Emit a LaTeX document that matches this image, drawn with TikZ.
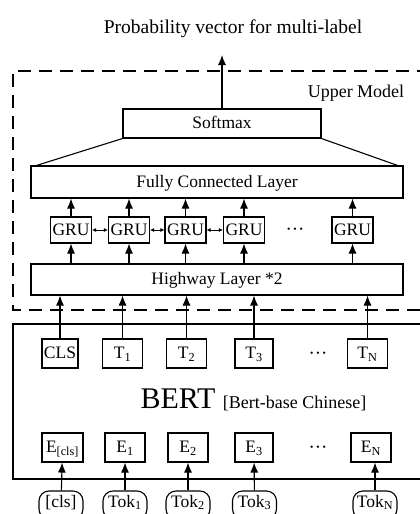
\documentclass[tikz,border=0pt]{standalone}
\usepackage{fontspec}
\setmainfont{Liberation Serif}
\usetikzlibrary{arrows.meta, positioning}
\tikzset{
  layer/.style = {draw, line width=1.1pt, inner sep=0pt,
    font=\fontsize{17.5}{20}\selectfont, text height=12.5pt, text depth=2pt},
  unit/.style = {layer, minimum height=29pt, minimum width=40pt},
  gru/.style = {layer, minimum height=26pt, minimum width=41pt},
  tok/.style = {layer, rounded corners=10pt, minimum height=28pt, minimum width=44pt,
    text depth=8pt},
  feed/.style = {line width=1.1pt, -{Latex[length=10pt, width=8pt]}},
  link/.style = {line width=0.8pt, {Latex[length=4pt, width=4pt]}-{Latex[length=4pt, width=4pt]}},
  dots/.style = {font=\fontsize{19}{20}\selectfont}
}
\newcommand{\hdots}{\textperiodcentered\textperiodcentered\textperiodcentered}

\begin{document}
\begin{tikzpicture}[x=1pt, y=-1pt]

  \useasboundingbox (0,0) rectangle (420,514);
  \clip (0,0) rectangle (420,514);

  % Output
  \node [anchor=base, font=\fontsize{19.5}{22}\selectfont] (prob) at (233,33) {Probability vector for multi-label};
  \coordinate (probtip) at (222,55);

  % Upper model frame
  \draw[line width=1.2pt, dash pattern=on 13pt off 8pt] (430,71) -- (13,71) -- (13,310) -- (430,310);
  \node [anchor=base, font=\fontsize{18}{20}\selectfont] (upper) at (356,97) {Upper Model};

  % Softmax and fully connected layer
  \node [layer, minimum width=198pt, minimum height=29pt] (softmax) at (222,123.5) {Softmax};
  \node [layer, minimum width=372pt, minimum height=32pt] (fc) at (217,182) {Fully Connected Layer};
  \draw[line width=1.1pt] (softmax.south west) -- ([xshift=6pt]fc.north west);
  \draw[line width=1.1pt] (softmax.south east) -- ([xshift=-6pt]fc.north east);
  \draw[feed] (softmax.north) -- (probtip);

  % GRU row
  \node [gru] (gru1) at (71,230) {GRU};
  \node [gru] (gru2) at (129,230) {GRU};
  \node [gru] (gru3) at (185.5,230) {GRU};
  \node [gru] (gru4) at (244,230) {GRU};
  \node [dots] (grudots) at (295,232) {\hdots};
  \node [gru] (grun) at (352.5,230) {GRU};
  \draw[link] (gru1) -- (gru2);
  \draw[link] (gru2) -- (gru3);
  \draw[link] (gru3) -- (gru4);

  % Highway layer
  \node [layer, minimum width=372pt, minimum height=31pt] (hw) at (217,279.5) {Highway Layer *2};
  \foreach \g in {gru1, gru2, gru3, gru4, grun} {
    \draw[feed] (hw.north -| \g.south) -- (\g.south);
    \draw[feed] (\g.north) -- (fc.south -| \g.north);
  }

  % BERT block
  \draw[line width=1.1pt] (430,324) -- (13,324) -- (13,479) -- (430,479);
  \node [anchor=base] (bert) at (253.5,408)
    {\fontsize{30}{30}\selectfont BERT \fontsize{18}{20}\selectfont [Bert-base Chinese]};

  % Output tokens
  \node [unit, minimum width=36pt] (cls) at (60,353.5) {CLS};
  \node [unit] (t1) at (122.5,353.5) {T\textsubscript{1}};
  \node [unit] (t2) at (186.5,353.5) {T\textsubscript{2}};
  \node [unit, minimum width=38pt] (t3) at (254,353.5) {T\textsubscript{3}};
  \node [dots] (tdots) at (318,356) {\hdots};
  \node [unit] (tn) at (367.5,353.5) {T\textsubscript{N}};
  \foreach \t in {cls, t1, t2, t3, tn}
    \draw[feed] (\t.north) -- (hw.south -| \t.north);

  % Embeddings
  \node [unit, minimum width=41pt] (ecls) at (62.5,447.5) {E\textsubscript{[cls]}};
  \node [unit] (e1) at (125,447.5) {E\textsubscript{1}};
  \node [unit] (e2) at (188,447.5) {E\textsubscript{2}};
  \node [unit, minimum width=38pt] (e3) at (254,447.5) {E\textsubscript{3}};
  \node [dots] (edots) at (318,450) {\hdots};
  \node [unit] (en) at (371,447.5) {E\textsubscript{N}};

  % Input tokens
  \node [tok] (tokcls) at (61,505) {[cls]};
  \node [tok] (tok1) at (125,505) {Tok\textsubscript{1}};
  \node [tok] (tok2) at (188,505) {Tok\textsubscript{2}};
  \node [tok] (tok3) at (254.5,505) {Tok\textsubscript{3}};
  \node [tok] (tokn) at (375,505) {Tok\textsubscript{N}};
  \draw[feed] (tokcls) -- (ecls);
  \draw[feed] (tok1) -- (e1);
  \draw[feed] (tok2) -- (e2);
  \draw[feed] (tok3) -- (e3);
  \draw[feed] (tokn.north) -- (en.south -| tokn.north);

\end{tikzpicture}
\end{document}
